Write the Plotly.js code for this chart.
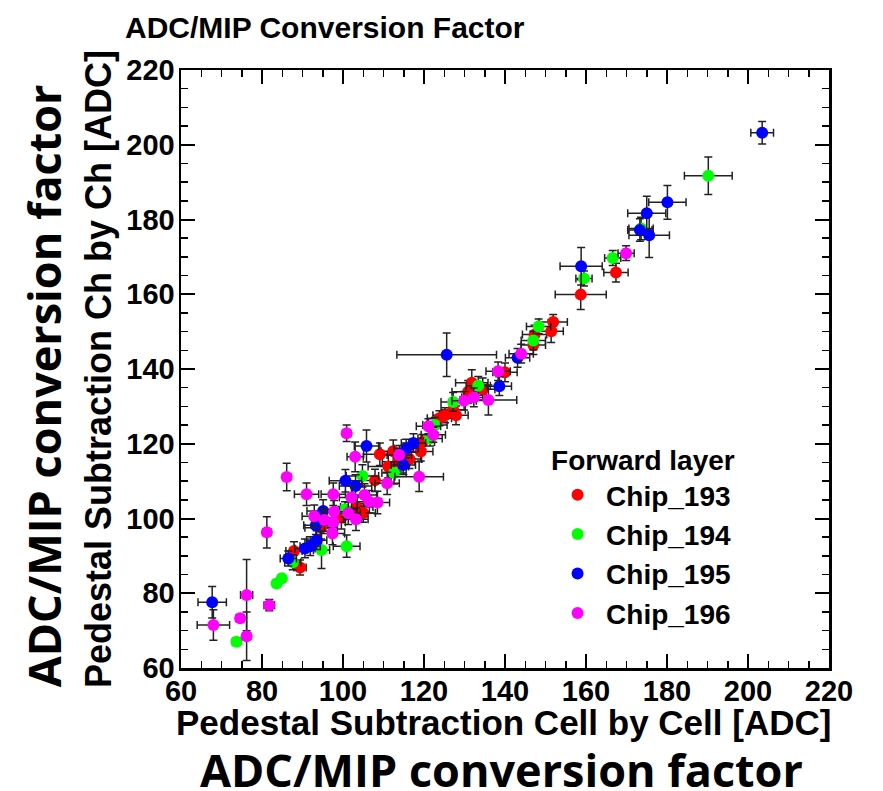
<!DOCTYPE html>
<html>
<head>
<meta charset="utf-8">
<script src="https://cdn.plot.ly/plotly-3.0.1.min.js"></script>
<style>html,body{margin:0;padding:0;background:#fff}#chart{width:883px;height:791px}</style>
</head>
<body>
<div id="chart"></div>
<script>
// Chip_193 (red)
const chip193X  = [87.9, 89.4, 94.6, 99.6, 103.4, 105.0, 107.9, 109.1, 111.2, 112.4, 113.7, 116.4, 119.2, 119.6, 123.8, 125.2, 127.2, 127.9, 130.9, 131.8, 134.5, 140.0, 147.0, 147.3, 151.4, 151.9, 158.7, 167.4];
const chip193Y  = [91.3, 86.9, 97.5, 100.2, 103.1, 101.5, 110.2, 117.2, 113.9, 118.0, 115.2, 115.9, 117.9, 120.5, 126.8, 127.6, 129.1, 127.6, 133.9, 136.3, 134.6, 139.1, 146.4, 149.2, 150.1, 152.6, 159.9, 165.8];
const chip193EX = [2, 1.5, 4, 5, 4, 3, 4, 4, 5, 3, 4, 3, 3, 3, 3, 3, 3, 3, 4, 4, 3, 3, 3, 3, 3, 3.5, 6.3, 3];
const chip193EY = [2.5, 2, 3, 3, 3, 2.5, 3, 3, 3, 3, 2.5, 2.5, 2.5, 2, 2, 2, 2, 2.5, 3, 3.5, 3, 2.5, 2.5, 2.5, 3, 2, 4, 2.5];

// Chip_194 (green)
const chip194X  = [73.7, 83.6, 84.9, 87.6, 94.7, 100.9, 100.5, 104.8, 112.6, 121.5, 122.7, 127.2, 133.4, 147.0, 148.3, 159.5, 166.6, 173.6, 190.2];
const chip194Y  = [67.0, 82.6, 84.0, 88.3, 91.6, 92.6, 102.5, 111.4, 112.2, 121.4, 125.0, 131.2, 135.5, 147.6, 151.4, 164.2, 169.7, 177.6, 191.7];
const chip194EX = [1, 0.8, 0.8, 2, 2, 3.3, 3, 4, 3, 3, 3, 3, 3, 3, 3, 2, 2, 3, 5.9];
const chip194EY = [1, 0.8, 0.8, 2, 5, 3, 2, 3, 3, 2, 2, 2.5, 2.5, 2.5, 2, 2, 2, 3, 5];

// Chip_195 (blue)
const chip195X  = [67.7, 86.5, 90.6, 91.9, 93.5, 93.3, 95.1, 100.6, 103.1, 105.8, 114.9, 115.6, 117.4, 125.6, 138.6, 143.1, 158.8, 173.3, 175.6, 175.0, 180.1, 203.5];
const chip195Y  = [77.6, 89.3, 92.0, 92.6, 94.2, 98.2, 102.0, 110.1, 108.7, 119.4, 114.3, 118.7, 120.2, 143.8, 135.4, 143.0, 167.5, 177.2, 175.8, 181.7, 184.6, 203.2];
const chip195EX = [3.5, 2, 2.5, 2.5, 2.5, 3, 4, 4, 4, 3, 3, 3, 3, 12.3, 3, 3, 5.2, 3, 5, 4.7, 4.6, 2.8];
const chip195EY = [4.2, 2, 2.5, 2.5, 2.5, 2.5, 3, 3, 3, 4.3, 2.5, 2.5, 2.5, 5.8, 2.5, 2.5, 5, 3, 6, 4.5, 4.5, 3];

// Chip_196 (magenta)
const chip196X  = [68.0, 74.6, 76.2, 76.2, 81.8, 81.2, 86.1, 91.0, 92.9, 95.4, 97.6, 97.8, 97.4, 97.6, 101.3, 103.2, 102.1, 105.3, 106.5, 108.5, 100.9, 103.0, 110.9, 113.9, 118.8, 121.1, 122.3, 129.9, 132.3, 135.9, 138.3, 144.0, 169.9];
const chip196Y  = [71.5, 73.3, 79.5, 68.5, 76.8, 96.3, 111.1, 106.5, 100.6, 99.6, 99.0, 101.8, 96.0, 106.5, 101.4, 99.8, 105.6, 106.3, 104.5, 104.3, 122.8, 116.5, 109.4, 117.0, 111.2, 124.7, 122.4, 131.5, 132.4, 131.7, 139.4, 144.1, 171.0];
const chip196EX = [4, 1, 1.5, 1, 1.3, 1, 1, 3, 3, 3, 3, 3, 3, 3, 3, 3, 3, 3, 3, 3, 1, 2, 3, 3, 6, 3, 3, 3, 3, 7, 3, 3, 2];
const chip196EY = [4.1, 1, 9.5, 6.5, 1.5, 4.2, 3.7, 3, 3, 3, 3, 3, 3, 3, 3, 3, 3, 3, 3, 3, 2.2, 4, 3, 2.5, 4, 2, 2, 2.5, 2.5, 4, 2.5, 2.5, 2];

const chipNames = ['Chip_193', 'Chip_194', 'Chip_195', 'Chip_196'];
const chipColors = ['#ff0000', '#00ff00', '#0000ff', '#ff00ff'];
const xTickVals = [60, 80, 100, 120, 140, 160, 180, 200, 220];
const yTickVals = [60, 80, 100, 120, 140, 160, 180, 200, 220];

const series = [
  [chip193X, chip193Y, chip193EX, chip193EY],
  [chip194X, chip194Y, chip194EX, chip194EY],
  [chip195X, chip195Y, chip195EX, chip195EY],
  [chip196X, chip196Y, chip196EX, chip196EY]
];

const HELV = 'Liberation Sans, Arial, Helvetica, sans-serif';
const BIG = 'Open Sans, Noto Sans, sans-serif';

const traces = series.map((s, i) => ({
  type: 'scatter',
  mode: 'markers',
  name: chipNames[i],
  x: s[0], y: s[1],
  error_x: {type: 'data', array: s[2], visible: true, color: '#222', thickness: 1.5, width: 4},
  error_y: {type: 'data', array: s[3], visible: true, color: '#222', thickness: 1.5, width: 4},
  marker: {color: chipColors[i], size: 12, line: {width: 0}},
  hoverinfo: 'x+y+name'
}));

const axisCommon = {
  range: [60, 220],
  tickmode: 'array',
  ticks: 'inside',
  ticklen: 14,
  tickwidth: 2,
  tickcolor: '#000',
  showline: true,
  linewidth: 2.5,
  linecolor: '#000',
  mirror: 'ticks',
  showgrid: false,
  zeroline: false,
  tickfont: {family: HELV, size: 29, color: '#000', weight: 700},
  minor: {dtick: 5, ticks: 'inside', ticklen: 7, tickwidth: 1.5, tickcolor: '#000', showgrid: false}
};

const layout = {
  width: 883, height: 791,
  margin: {l: 181, r: 54, t: 70, b: 123},
  paper_bgcolor: '#fff', plot_bgcolor: '#fff',
  showlegend: true,
  title: {
    text: 'ADC/MIP Conversion Factor',
    font: {family: HELV, size: 30, color: '#000', weight: 700},
    xref: 'container', x: 125 / 883, xanchor: 'left',
    yref: 'container', y: 1 - 27 / 791, yanchor: 'middle'
  },
  xaxis: Object.assign({}, axisCommon, {
    tickvals: xTickVals, ticktext: xTickVals.map(String),
    ticklabelstandoff: -4
  }),
  yaxis: Object.assign({}, axisCommon, {
    tickvals: yTickVals, ticktext: yTickVals.map(String),
    ticklabelstandoff: -2,
    title: {text: 'Pedestal Subtraction Ch by Ch [ADC]', font: {family: HELV, size: 36, color: '#000', weight: 700}, standoff: 4}
  }),
  legend: {
    x: 0.568, xanchor: 'left', y: 0.392, yanchor: 'top',
    bgcolor: 'rgba(0,0,0,0)', borderwidth: 0,
    itemwidth: 47,
    font: {family: HELV, size: 28, color: '#000', weight: 700},
    title: {text: 'Forward layer', font: {family: HELV, size: 28, color: '#000', weight: 700}},
    itemclick: false
  },
  annotations: [
    {text: 'Pedestal Subtraction Cell by Cell [ADC]', xref: 'paper', yref: 'paper', x: 0.497, y: 0, yshift: -54,
     xanchor: 'center', yanchor: 'middle', showarrow: false,
     font: {family: HELV, size: 35, color: '#000', weight: 700}},
    {text: 'ADC/MIP conversion factor', xref: 'paper', yref: 'paper', x: 0.494, y: 0, yshift: -101,
     xanchor: 'center', yanchor: 'middle', showarrow: false,
     font: {family: BIG, size: 45, color: '#000', weight: 700}},
    {text: 'ADC/MIP conversion factor', xref: 'paper', yref: 'paper', x: 0, xshift: -138, y: 0.471,
     xanchor: 'center', yanchor: 'middle', showarrow: false, textangle: -90,
     font: {family: BIG, size: 45, color: '#000', weight: 700}}
  ]
};

Plotly.newPlot('chart', traces, layout, {displayModeBar: false, staticPlot: true});
</script>
</body>
</html>
